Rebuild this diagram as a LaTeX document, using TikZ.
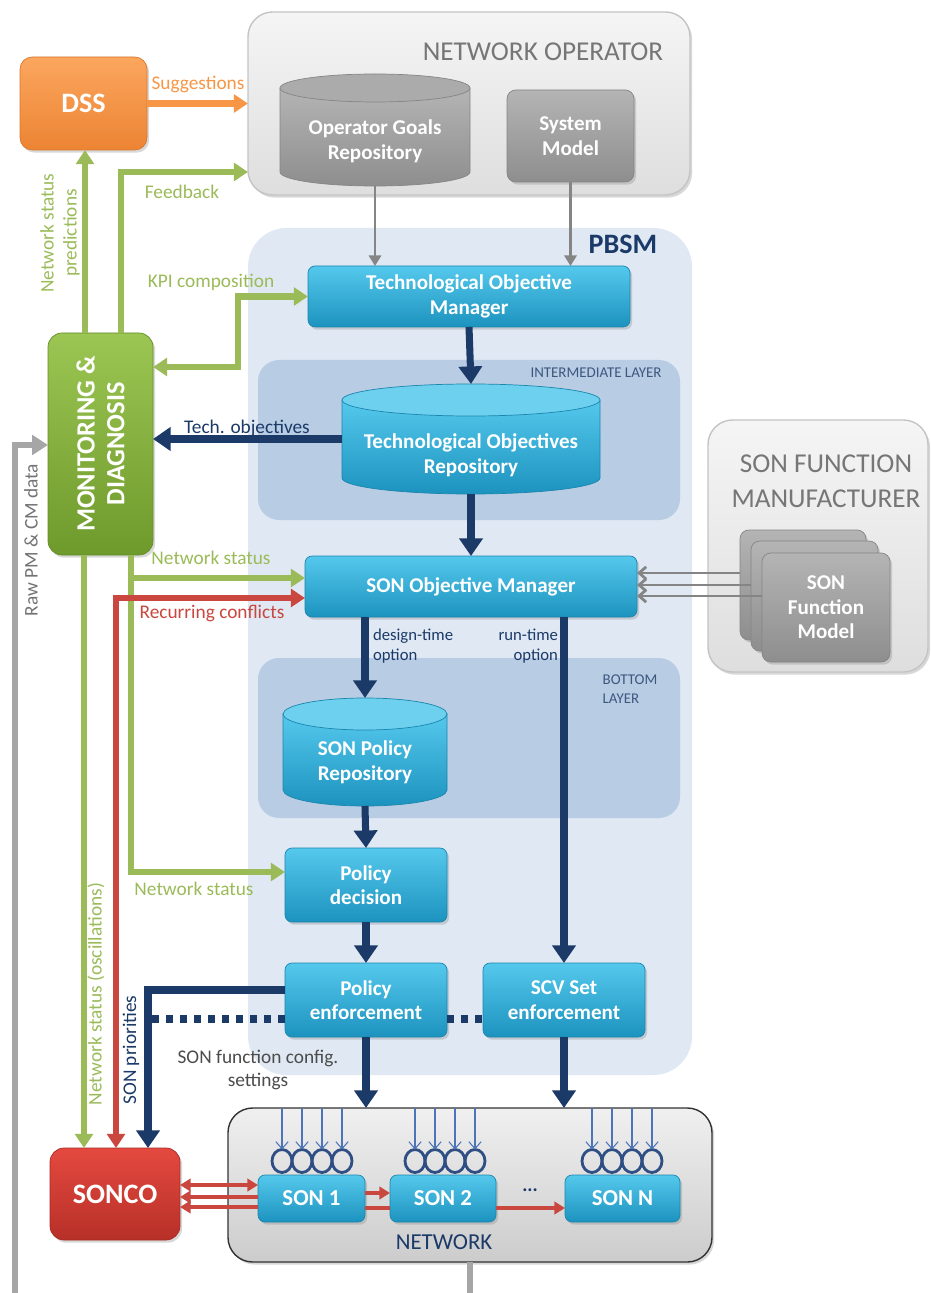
\documentclass[tikz,border=0pt]{standalone}
\usepackage{fontspec}
\setmainfont{Carlito}
\usetikzlibrary{arrows.meta,shadows,fit,shapes.geometric}

\definecolor{grn}{HTML}{9BBB59}
\definecolor{grnT}{HTML}{9CC653}
\definecolor{grnB}{HTML}{6E9A2C}
\definecolor{grnD}{HTML}{638E27}
\definecolor{orgL}{HTML}{F79646}
\definecolor{orgT}{HTML}{FBA65E}
\definecolor{orgB}{HTML}{EC8433}
\definecolor{orgD}{HTML}{D9782E}
\definecolor{redL}{HTML}{C9473F}
\definecolor{redT}{HTML}{E4493F}
\definecolor{redB}{HTML}{B73028}
\definecolor{redD}{HTML}{A52A23}
\definecolor{navy}{HTML}{1B3A68}
\definecolor{cyT}{HTML}{55C8EC}
\definecolor{cyB}{HTML}{1C93BF}
\definecolor{cyD}{HTML}{1B86AE}
\definecolor{cyE}{HTML}{6DD0EE}
\definecolor{gyT}{HTML}{B4B4B4}
\definecolor{gyB}{HTML}{8E8E8E}
\definecolor{gyD}{HTML}{858585}
\definecolor{gyE}{HTML}{ABABAB}
\definecolor{glineC}{HTML}{A6A6A6}
\definecolor{pbsmC}{HTML}{DFE8F3}
\definecolor{layerC}{HTML}{B8CCE4}
\definecolor{txtgray}{HTML}{767676}
\definecolor{panelT}{HTML}{F5F5F5}
\definecolor{panelB}{HTML}{DEDEDE}
\definecolor{panelD}{HTML}{C4C4C4}
\definecolor{ringC}{HTML}{2E4E84}
\definecolor{pinC}{HTML}{4D74B8}

% one drawing unit
\newdimen\pxu
\pxu=0.02cm

% cylinder body and lid: x left, x right, lid centre y, base centre y, y radius, colour prefix
\newcommand\cylbody[6]{%
  \path[draw=#6D, top color=#6T, bottom color=#6B]
    (#1,#3) -- (#1,#4) arc[start angle=180,end angle=0,x radius={(#2-#1)/2},y radius=#5] -- (#2,#3) -- cycle;
  \path[draw=#6D, fill=#6E] ({(#1+#2)/2},#3) ellipse[x radius={(#2-#1)/2},y radius=#5];
}

\begin{document}
\begin{tikzpicture}[x=0.02cm,y=-0.02cm,
  every node/.style={inner sep=0pt, outer sep=0pt, align=center},
  sz/.style 2 args={minimum width=#1\pxu, minimum height=#2\pxu},
  boxfont/.style={font=\bfseries\fontsize{12}{14}\selectfont},
  lbl/.style={font=\fontsize{11}{13}\selectfont},
  shd/.style={drop shadow={opacity=0.3,shadow xshift=1.2pt,shadow yshift=-1.5pt}},
  cbox/.style={boxfont, rounded corners=4pt, draw=cyD, top color=cyT, bottom color=cyB, text=white, shd},
  gbox/.style={boxfont, rounded corners=5pt, draw=gyD, top color=gyT, bottom color=gyB, text=white, shd},
  panel/.style={rounded corners=14pt, draw=panelD, line width=0.8pt, top color=panelT, bottom color=panelB, shd},
  netpanel/.style={rounded corners=14pt, draw=black!80, line width=0.8pt, top color=black!6, bottom color=black!20, shd},
  layer/.style={rounded corners=12pt, fill=layerC},
  tip/.style={-{Triangle[length=8pt,width=10pt]}},
  tips/.style={{Triangle[length=8pt,width=10pt]}-{Triangle[length=8pt,width=10pt]}},
  garr/.style={draw=grn, line width=3.5pt, tip},
  gboth/.style={draw=grn, line width=3.5pt, tips},
  oarr/.style={draw=orgL, line width=3.5pt, tip},
  rboth/.style={draw=redL, line width=3.5pt, tips},
  narr/.style={draw=navy, line width=4pt, -{Triangle[length=10pt,width=13pt]}},
  ndot/.style={draw=navy, line width=4pt, dash pattern=on 4pt off 4pt},
  grarr/.style={draw=gyD, line width=1.3pt, -{Triangle[length=6pt,width=7pt]}},
  farr/.style={draw=gyD, line width=1.6pt, -{Straight Barb[length=4pt,width=7pt]}},
  rawarr/.style={draw=glineC, line width=3pt, line join=miter, -{Triangle[length=9pt,width=11pt]}},
  rthin/.style={draw=redL, line width=2pt},
  rtip/.style={-{Triangle[length=6pt,width=7pt]}},
  sonbox/.style={cbox, font=\bfseries\fontsize{13}{15}\selectfont},
  ring/.style={ellipse, draw=ringC, line width=1.6pt, minimum width=0.4cm, minimum height=0.46cm},
  pin/.style={draw=pinC, line width=0.6pt, -{Straight Barb[length=4pt,width=7pt]}},
]
\useasboundingbox (0,0) rectangle (930,1293);
\fill[white] (0,0) rectangle (930,1293);

% ---------- panels and layers ----------
\node[panel, fit={(248,12) (690,195)}] (no) {};
\node[font=\fontsize{15.5}{18}\selectfont, text=txtgray] (notitle) at (543,52) {NETWORK OPERATOR};

\node[rounded corners=22pt, fill=pbsmC, fit={(248,228) (692,1075)}] (pbsm) {};
\node[font=\bfseries\fontsize{16}{18}\selectfont, text=navy] (pbsmtitle) at (623,244) {PBSM};

\node[layer, fit={(258,360) (680,520)}] (il) {};
\node[font=\fontsize{8.5}{10}\selectfont, text=navy!85] (iltitle) at (596,373) {INTERMEDIATE LAYER};
\node[layer, fit={(258,658) (680,818)}] (bl) {};
\node[font=\fontsize{8.5}{10.5}\selectfont, text=navy!85, align=left] (bltitle) at (630,689) {BOTTOM\\LAYER};

\node[panel, fit={(708,420) (928,672)}] (sfm) {};
\node[font=\fontsize{15.5}{20}\selectfont, text=txtgray] (sfmtitle) at (826,481) {SON FUNCTION\\MANUFACTURER};

\node[netpanel, fit={(228,1108) (712,1262)}] (net) {};
\node[font=\fontsize{13}{15}\selectfont, text=navy] (nettitle) at (444,1242) {NETWORK};

% ---------- network operator contents ----------
\cylbody{280}{470}{88}{172}{14}{gy}
\node[fit={(280,74) (470,186)}] (ogr) {};
\node[boxfont, text=white] (ogrtxt) at (375,141) {Operator Goals\\Repository};
\node[gbox, sz={127}{92}] (sm) at (570.5,136) {System\\Model};

% ---------- PBSM contents ----------
\node[cbox, sz={322}{61}] (tom) at (469,296.5) {Technological Objective\\Manager};
\cylbody{342}{600}{400}{478}{16}{cy}
\node[fit={(342,384) (600,494)}] (tor) {};
\node[boxfont, text=white] (tortxt) at (471,455) {Technological Objectives\\Repository};
\node[cbox, sz={332}{61}] (som) at (471,586.5) {SON Objective Manager};
\cylbody{283}{447}{714}{790}{16}{cy}
\node[fit={(283,698) (447,806)}] (spr) {};
\node[boxfont, text=white] (sprtxt) at (365,762) {SON Policy\\Repository};
\node[cbox, sz={162}{74}] (pd) at (366,885) {Policy\\decision};
\node[cbox, sz={162}{74}] (pe) at (366,1000) {Policy\\enforcement};
\node[cbox, sz={162}{74}] (scv) at (564,1000) {SCV Set\\enforcement};

% ---------- SON function manufacturer cards ----------
\node[gbox, sz={126}{110}] (card3) at (803,585) {};
\node[gbox, sz={127}{110}] (card2) at (814.5,596) {};
\node[gbox, sz={128}{109}] (card1) at (826,607.5) {SON\\Function\\Model};

% ---------- side boxes ----------
\node[rounded corners=7pt, draw=orgD, top color=orgT, bottom color=orgB, shd, text=white,
      font=\bfseries\fontsize{16}{18}\selectfont, sz={127}{93}] (dss) at (83.5,103.5) {DSS};
\node[rounded corners=8pt, draw=grnD, top color=grnT, bottom color=grnB, shd, sz={105}{222}] (md) at (100.5,444) {};
\node[rotate=90, text=white, font=\bfseries\fontsize{15}{17}\selectfont] (mdtxt) at (md.center) {MONITORING \&\\DIAGNOSIS};
\node[rounded corners=8pt, draw=redD, top color=redT, bottom color=redB, shd, text=white,
      font=\bfseries\fontsize{16}{18}\selectfont, sz={130}{92}] (sonco) at (115,1194) {SONCO};

% ---------- network: receptors and SON functions ----------
\foreach \bx/\nm in {282/p, 415/q, 592/r}{
  \foreach \k in {0,1,2,3}{
    \node[ring] (\nm\k) at ({\bx+20*\k},1161) {};
    \draw[pin] (\nm\k.north |- net.north) -- (\nm\k.north);
  }
}
\node[sonbox, sz={107}{47}] (son1) at (311.5,1198.5) {SON 1};
\node[sonbox, sz={106}{47}] (son2) at (443,1198.5) {SON 2};
\node[sonbox, sz={115}{47}] (sonn) at (622.5,1198.5) {SON N};
\node[font=\bfseries\fontsize{11}{13}\selectfont, text=navy] (dots) at (530,1190) {...};

% ---------- connectors: network operator ----------
\draw[oarr] (dss.east) -- (dss.east -| no.west);
\node[lbl, text=orgL] (sugg) at (198,84) {Suggestions};
\draw[grarr] (ogr.south) -- (ogr.south |- tom.north);
\draw[grarr] (sm.south) -- (sm.south |- tom.north);

% ---------- connectors: monitoring and diagnosis ----------
\coordinate (prd) at (85,0);
\draw[garr] (md.north -| prd) -- (dss.south -| prd);
\node[lbl, rotate=90, text=grn] (prdtxt) at (60,233) {Network status\\predictions};

\coordinate (fb) at (121,172);
\draw[garr] (md.north -| fb) -- (fb) -- (fb -| no.west);
\node[lbl, text=grn] (fbtxt) at (182,192) {Feedback};

\coordinate (kb) at (238,367);
\draw[gboth] (tom.west) -| (kb) -- (kb -| md.east);
\node[lbl, text=grn] (kpitxt) at (211,282) {KPI composition};

\draw[narr] (tor.west) -- (tor.west -| md.east);
\node[lbl, text=navy] (techtxt) at (247,428) {Tech. objectives};

\coordinate (ns1) at (131,578);
\coordinate (ns2) at (131,872);
\draw[garr] (md.south -| ns1) -- (ns2) -- (ns2 -| pd.west);
\draw[garr] (ns1) -- (ns1 -| som.west);
\node[lbl, text=grn] (nstxt1) at (211,558) {Network status};
\node[lbl, text=grn] (nstxt2) at (194,889) {Network status};

\coordinate (rc) at (116,598);
\draw[rboth] (sonco.north -| rc) -- (rc) -- (rc -| som.west);
\node[lbl, text=redL] (rctxt) at (212,614) {Recurring conflicts};

\coordinate (osc) at (84,0);
\draw[garr] (md.south -| osc) -- (sonco.north -| osc);
\node[lbl, rotate=90, text=grn] (osctxt) at (96,994) {Network status (oscillations)};

% ---------- connectors: objective chain ----------
\draw[narr] (tom.south) -- (tor.north);
\draw[narr] (tor.south) -- (tor.south |- som.north);
\draw[narr] (som.south -| spr.north) -- (spr.north);
\node[font=\fontsize{9.5}{11}\selectfont, text=navy, align=left, anchor=west] (dttxt) at (373,646) {design-time\\option};
\draw[narr] (som.south -| scv.north) -- (scv.north);
\node[font=\fontsize{9.5}{11}\selectfont, text=navy, align=right, anchor=east] (rttxt) at (558,646) {run-time\\option};
\draw[narr] (spr.south) -- (pd.north);
\draw[narr] (pd.south) -- (pe.north);
\draw[narr] (pe.south) -- (pe.south |- net.north);
\draw[narr] (scv.south) -- (scv.south |- net.north);
\node[lbl, text=black!70] (cfgtxt) at (258,1070) {SON function config.\\settings};

\coordinate (sp) at (148,990);
\draw[narr] (pe.west |- sp) -- (sp) -- (sp |- sonco.north);
\node[lbl, rotate=90, text=navy] (sptxt) at (131,1050) {SON priorities};
\coordinate (dl) at (148,1019);
\draw[ndot] (pe.west |- dl) -- (dl);
\draw[ndot] (pe.east |- dl) -- (scv.west |- dl);

% ---------- connectors: SON function models ----------
\coordinate (fa) at (0,573);
\coordinate (fbb) at (0,585);
\coordinate (fc) at (0,596);
\draw[farr] (card3.west |- fa) -- (som.east |- fa);
\draw[farr] (card2.west |- fbb) -- (som.east |- fbb);
\draw[farr] (card1.west |- fc) -- (som.east |- fc);

% ---------- connectors: SONCO and SON functions ----------
\coordinate (s1) at (0,1185);
\coordinate (s2) at (0,1197);
\coordinate (s3) at (0,1207);
\draw[rthin, {Triangle[length=6pt,width=7pt]}-{Triangle[length=6pt,width=7pt]}] (sonco.east |- s1) -- (son1.west |- s1);
\draw[rthin, {Triangle[length=6pt,width=7pt]}-] (sonco.east |- s2) -- (son1.west |- s2);
\draw[rthin, {Triangle[length=6pt,width=7pt]}-] (sonco.east |- s3) -- (son1.west |- s3);
\coordinate (t1) at (0,1193);
\coordinate (t2) at (0,1208);
\draw[rthin, rtip] (son1.east |- t1) -- (son2.west |- t1);
\draw[rthin] (son1.east |- t2) -- (son2.west |- t2);
\draw[rthin, rtip] (son2.east |- t2) -- (sonn.west |- t2);

% ---------- raw measurement feed ----------
\coordinate (g1) at (470,1300);
\coordinate (g2) at (15,1300);
\coordinate (g3) at (15,445);
\draw[rawarr] (net.south -| g1) -- (g1) -- (g2) -- (g3) -- (g3 -| md.west);
\node[lbl, rotate=90, text=black!55] (rawtxt) at (31,540) {Raw PM \& CM data};
\end{tikzpicture}
\end{document}
